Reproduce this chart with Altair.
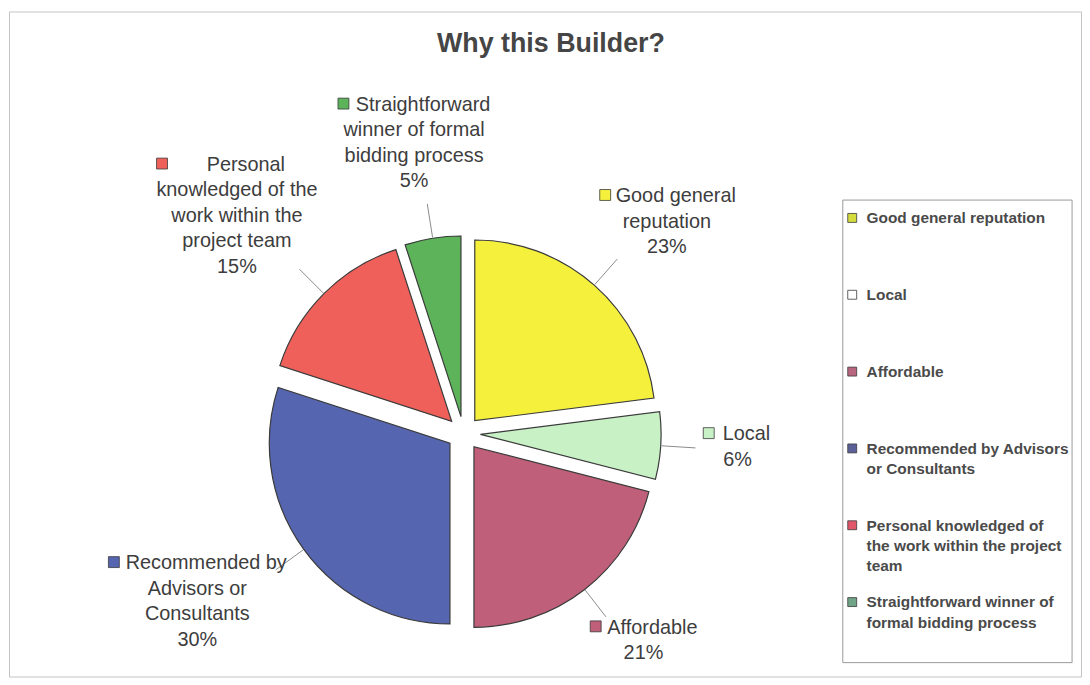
import math
import altair as alt
import pandas as pd

# ---------------- data ----------------
categories = [
    "Good general reputation",
    "Local",
    "Affordable",
    "Recommended by Advisors or Consultants",
    "Personal knowledged of the work  within the project team",
    "Straightforward winner of formal bidding process",
]
values = [23, 6, 21, 30, 15, 5]
slice_colors = ["#F5F03C", "#C8F2C6", "#BF5F79", "#5665B0", "#EE6059", "#5CB35A"]
label_texts = [
    "Good general\nreputation",
    "Local",
    "Affordable",
    "Recommended by\nAdvisors or\nConsultants",
    "Personal\nknowledged of the\nwork  within the\nproject team",
    "Straightforward\nwinner of formal\nbidding process",
]
legend_texts = [
    "Good general reputation",
    "Local",
    "Affordable",
    "Recommended by Advisors\nor Consultants",
    "Personal knowledged of\nthe work  within the project\nteam",
    "Straightforward winner of\nformal bidding process",
]
legend_key_colors = ["#D4DC3E", "#FFFFFF", "#B8667F", "#5C6098", "#E2566A", "#70A487"]
title_text = "Why this Builder?"

# ---------------- layout ----------------
W, H = 1080, 670
CX, CY = 458, 425          # pie centre
R = 182                    # pie radius
EXPLODE = 17               # slice explosion
LABEL_R = 242              # distance of label anchor from centre
LBL_FS, LBL_LH = 20, 25.6
KEY, KEY_GAP = 11, 7
LEG_BOX = (840, 190, 1071, 656)
LEG_FIRST, LEG_STEP = 208, 77.4
LEG_FS, LEG_LH = 15.5, 20.5
TEXT_COLOR = "#3d3d3d"
FONT = "Arial, 'Liberation Sans', sans-serif"
TITLE_DX, TITLE_Y, TITLE_FS = 6, 41, 27


def text_w(s, fs):
    w = 0.0
    for ch in s:
        if ch in "iljtfI'|.,:;!":
            w += 0.25
        elif ch == "r":
            w += 0.333
        elif ch in "mwMW%":
            w += 0.85
        elif ch == " ":
            w += 0.278
        elif ch.isupper():
            w += 0.68
        else:
            w += 0.54
    return w * fs


total = float(sum(values))
slice_rows, leader_rows, first_rows, rest_rows, key_rows = [], [], [], [], []
cum = 0.0
for cat, v, txt in zip(categories, values, label_texts):
    a0 = cum / total * 2 * math.pi
    cum += v
    a1 = cum / total * 2 * math.pi
    m = (a0 + a1) / 2
    s, c = math.sin(m), math.cos(m)
    slice_rows.append(dict(cat=cat, t0=a0, t1=a1, cx=CX + EXPLODE * s, cy=CY - EXPLODE * c))
    # leader line from slice edge to label anchor
    leader_rows.append(dict(x=CX + (R + EXPLODE + 1) * s, y=CY - (R + EXPLODE + 1) * c,
                            x2=CX + (LABEL_R - 8) * s, y2=CY - (LABEL_R - 8) * c))
    # label block
    lines = txt.split("\n") + [f"{v}%"]
    w0 = text_w(lines[0], LBL_FS) + KEY + KEY_GAP
    w = max([w0] + [text_w(l, LBL_FS) for l in lines[1:]])
    h = len(lines) * LBL_LH
    ax, ay = CX + LABEL_R * s, CY - LABEL_R * c
    bx, by = ax + s * w / 2, ay - c * h / 2
    top = by - h / 2
    first_rows.append(dict(x=bx + (KEY + KEY_GAP) / 2, y=top, text=lines[0]))
    rest_rows.append(dict(x=bx, y=top + LBL_LH, text="\n".join(lines[1:])))
    key_rows.append(dict(x=bx - w / 2 + KEY / 2, y=top + 0.43 * LBL_FS, cat=cat))

slices = pd.DataFrame(slice_rows)
leaders = pd.DataFrame(leader_rows)
first_df = pd.DataFrame(first_rows)
rest_df = pd.DataFrame(rest_rows)
keys_df = pd.DataFrame(key_rows)

legend_df = pd.DataFrame({
    "text": legend_texts,
    "kcolor": legend_key_colors,
    "yc": [LEG_FIRST + i * LEG_STEP for i in range(len(legend_texts))],
})
legend_df["ytop"] = legend_df["yc"] - 0.43 * LEG_FS
legend_df["kx"] = LEG_BOX[0] + 9.5
legend_df["tx"] = LEG_BOX[0] + 24

box_df = pd.DataFrame([dict(x=LEG_BOX[0], x2=LEG_BOX[2], y=LEG_BOX[1], y2=LEG_BOX[3])])
title_df = pd.DataFrame([dict(x=W / 2 + TITLE_DX, y=TITLE_Y, text=title_text)])

xs = alt.Scale(domain=[0, W], nice=False, zero=False)
ys = alt.Scale(domain=[0, H], nice=False, zero=False, reverse=True)
color_scale = alt.Scale(domain=categories, range=slice_colors)


def X(f):
    return alt.X(f"{f}:Q", scale=xs, axis=None)


def Y(f):
    return alt.Y(f"{f}:Q", scale=ys, axis=None)


arcs = alt.Chart(slices).mark_arc(radius=R, stroke="#3a3a3a", strokeWidth=1.2).encode(
    x=X("cx"), y=Y("cy"),
    theta=alt.Theta("t0:Q", scale=None, stack=None),
    theta2=alt.Theta2("t1:Q"),
    color=alt.Color("cat:N", scale=color_scale, legend=None),
)

leader = alt.Chart(leaders).mark_rule(color="#8a8a8a", strokeWidth=1).encode(
    x=X("x"), y=Y("y"), x2="x2:Q", y2="y2:Q"
)

first_txt = alt.Chart(first_df).mark_text(
    align="center", baseline="top", fontSize=LBL_FS, font=FONT, color=TEXT_COLOR
).encode(x=X("x"), y=Y("y"), text="text:N")

rest_txt = alt.Chart(rest_df).mark_text(
    align="center", baseline="top", fontSize=LBL_FS, font=FONT, color=TEXT_COLOR,
    lineBreak="\n", lineHeight=LBL_LH
).encode(x=X("x"), y=Y("y"), text="text:N")

keys = alt.Chart(keys_df).mark_square(size=KEY * KEY, stroke="#3a3a3a", strokeWidth=0.8, opacity=1).encode(
    x=X("x"), y=Y("y"), color=alt.Color("cat:N", scale=color_scale, legend=None)
)

box = alt.Chart(box_df).mark_rect(fill="white", fillOpacity=0, stroke="#9a9a9a", strokeWidth=1).encode(
    x=X("x"), x2="x2:Q", y=Y("y"), y2="y2:Q"
)

leg_keys = alt.Chart(legend_df).mark_square(size=81, stroke="#3a3a3a", strokeWidth=0.8, opacity=1).encode(
    x=X("kx"), y=Y("yc"), fill=alt.Fill("kcolor:N", scale=None)
)

leg_txt = alt.Chart(legend_df).mark_text(
    align="left", baseline="top", fontSize=LEG_FS, fontWeight="bold", font=FONT,
    color="#4a4a4a", lineBreak="\n", lineHeight=LEG_LH
).encode(x=X("tx"), y=Y("ytop"), text="text:N")

title = alt.Chart(title_df).mark_text(
    align="center", baseline="alphabetic", fontSize=TITLE_FS, fontWeight="bold", font=FONT, color="#454545"
).encode(x=X("x"), y=Y("y"), text="text:N")

chart = alt.layer(box, arcs, leader, keys, first_txt, rest_txt, leg_keys, leg_txt, title).properties(
    width=W, height=H, autosize=alt.AutoSizeParams(type="none"), padding=1
).configure_view(stroke="#c4c4c4", strokeWidth=1)

chart.save("out.html", embed_options={"renderer": "svg", "actions": False})
